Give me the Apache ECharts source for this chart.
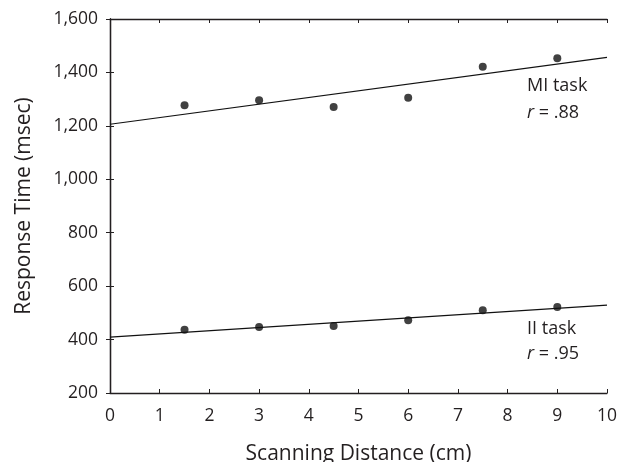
<!DOCTYPE html>
<html><head><meta charset="utf-8">
<script src="https://cdn.jsdelivr.net/npm/echarts@6/dist/echarts.min.js"></script>
<style>html,body{margin:0;padding:0;background:#fff}#c{width:631px;height:462px}</style>
</head><body><div id="c"></div>
<script>
var distances = [1.5, 3, 4.5, 6, 7.5, 9];
var miTask = [1277, 1296, 1271, 1305, 1421, 1453];
var iiTask = [437, 447, 451, 472, 510, 522];
var miFitX = [0, 10];
var miFitY = [1206, 1456];
var iiFitX = [0, 10];
var iiFitY = [409, 529];
var xTicks = [0, 1, 2, 3, 4, 5, 6, 7, 8, 9, 10];
var yTicks = [200, 400, 600, 800, 1000, 1200, 1400, 1600];

function pairs(xs, ys) { return xs.map(function (x, i) { return [x, ys[i]]; }); }
var FONT = '"Open Sans", "Noto Sans", sans-serif';
var TXT = '#231f20';
var chart = echarts.init(document.getElementById('c'));
var axisCommon = {
  type: 'value',
  axisLine: { show: true, lineStyle: { color: TXT, width: 1.3 } },
  axisTick: { show: true, inside: true, length: 4, lineStyle: { color: TXT, width: 1 } },
  splitLine: { show: false }
};
chart.setOption({
  animation: false,
  grid: { left: 110, right: 24, top: 19, bottom: 69, containLabel: false, outerBoundsMode: 'none' },
  xAxis: [
    Object.assign({}, axisCommon, {
      position: 'bottom', min: 0, max: 10, interval: 1,
      name: 'Scanning Distance (cm)', nameLocation: 'middle', nameGap: 51,
      nameTextStyle: { fontFamily: FONT, fontSize: 21, color: TXT },
      axisLabel: { fontFamily: FONT, fontSize: 17.5, color: TXT, margin: 14,
        formatter: function (v) { return xTicks.indexOf(v) >= 0 ? String(v) : ''; } }
    }),
    Object.assign({}, axisCommon, {
      position: 'top', min: 0, max: 10, interval: 1, axisLabel: { show: false }
    })
  ],
  yAxis: [
    Object.assign({}, axisCommon, {
      position: 'left', min: 200, max: 1600, interval: 200,
      name: 'Response Time (msec)', nameLocation: 'middle', nameGap: 75,
      nameTextStyle: { fontFamily: FONT, fontSize: 21, color: TXT },
      axisLabel: { fontFamily: FONT, fontSize: 17.5, color: TXT, margin: 12,
        formatter: function (v) { return yTicks.indexOf(v) >= 0 ? v.toLocaleString('en-US') : ''; } }
    }),
    Object.assign({}, axisCommon, {
      position: 'right', min: 200, max: 1600, interval: 200, axisLabel: { show: false }
    })
  ],
  series: [
    { type: 'line', data: pairs(miFitX, miFitY), symbol: 'none', silent: true,
      lineStyle: { color: '#111', width: 1.2 } },
    { type: 'line', data: pairs(iiFitX, iiFitY), symbol: 'none', silent: true,
      lineStyle: { color: '#111', width: 1.2 } },
    { type: 'scatter', data: pairs(distances, miTask), symbol: 'circle', symbolSize: 8,
      itemStyle: { color: '#111' } },
    { type: 'scatter', data: pairs(distances, iiTask), symbol: 'circle', symbolSize: 8,
      itemStyle: { color: '#111' } }
  ],
  graphic: [
    { type: 'text', left: 527, top: 77, style: { text: 'MI task', fontFamily: FONT, fontSize: 18, fill: TXT } },
    { type: 'text', left: 527, top: 104, style: { text: '{i|r} = .88', fontFamily: FONT, fontSize: 18, fill: TXT,
      rich: { i: { fontStyle: 'italic', fontFamily: FONT, fontSize: 18, fill: TXT } } } },
    { type: 'text', left: 527, top: 320, style: { text: 'II task', fontFamily: FONT, fontSize: 18, fill: TXT } },
    { type: 'text', left: 527, top: 345, style: { text: '{i|r} = .95', fontFamily: FONT, fontSize: 18, fill: TXT,
      rich: { i: { fontStyle: 'italic', fontFamily: FONT, fontSize: 18, fill: TXT } } } }
  ]
});
</script></body></html>
